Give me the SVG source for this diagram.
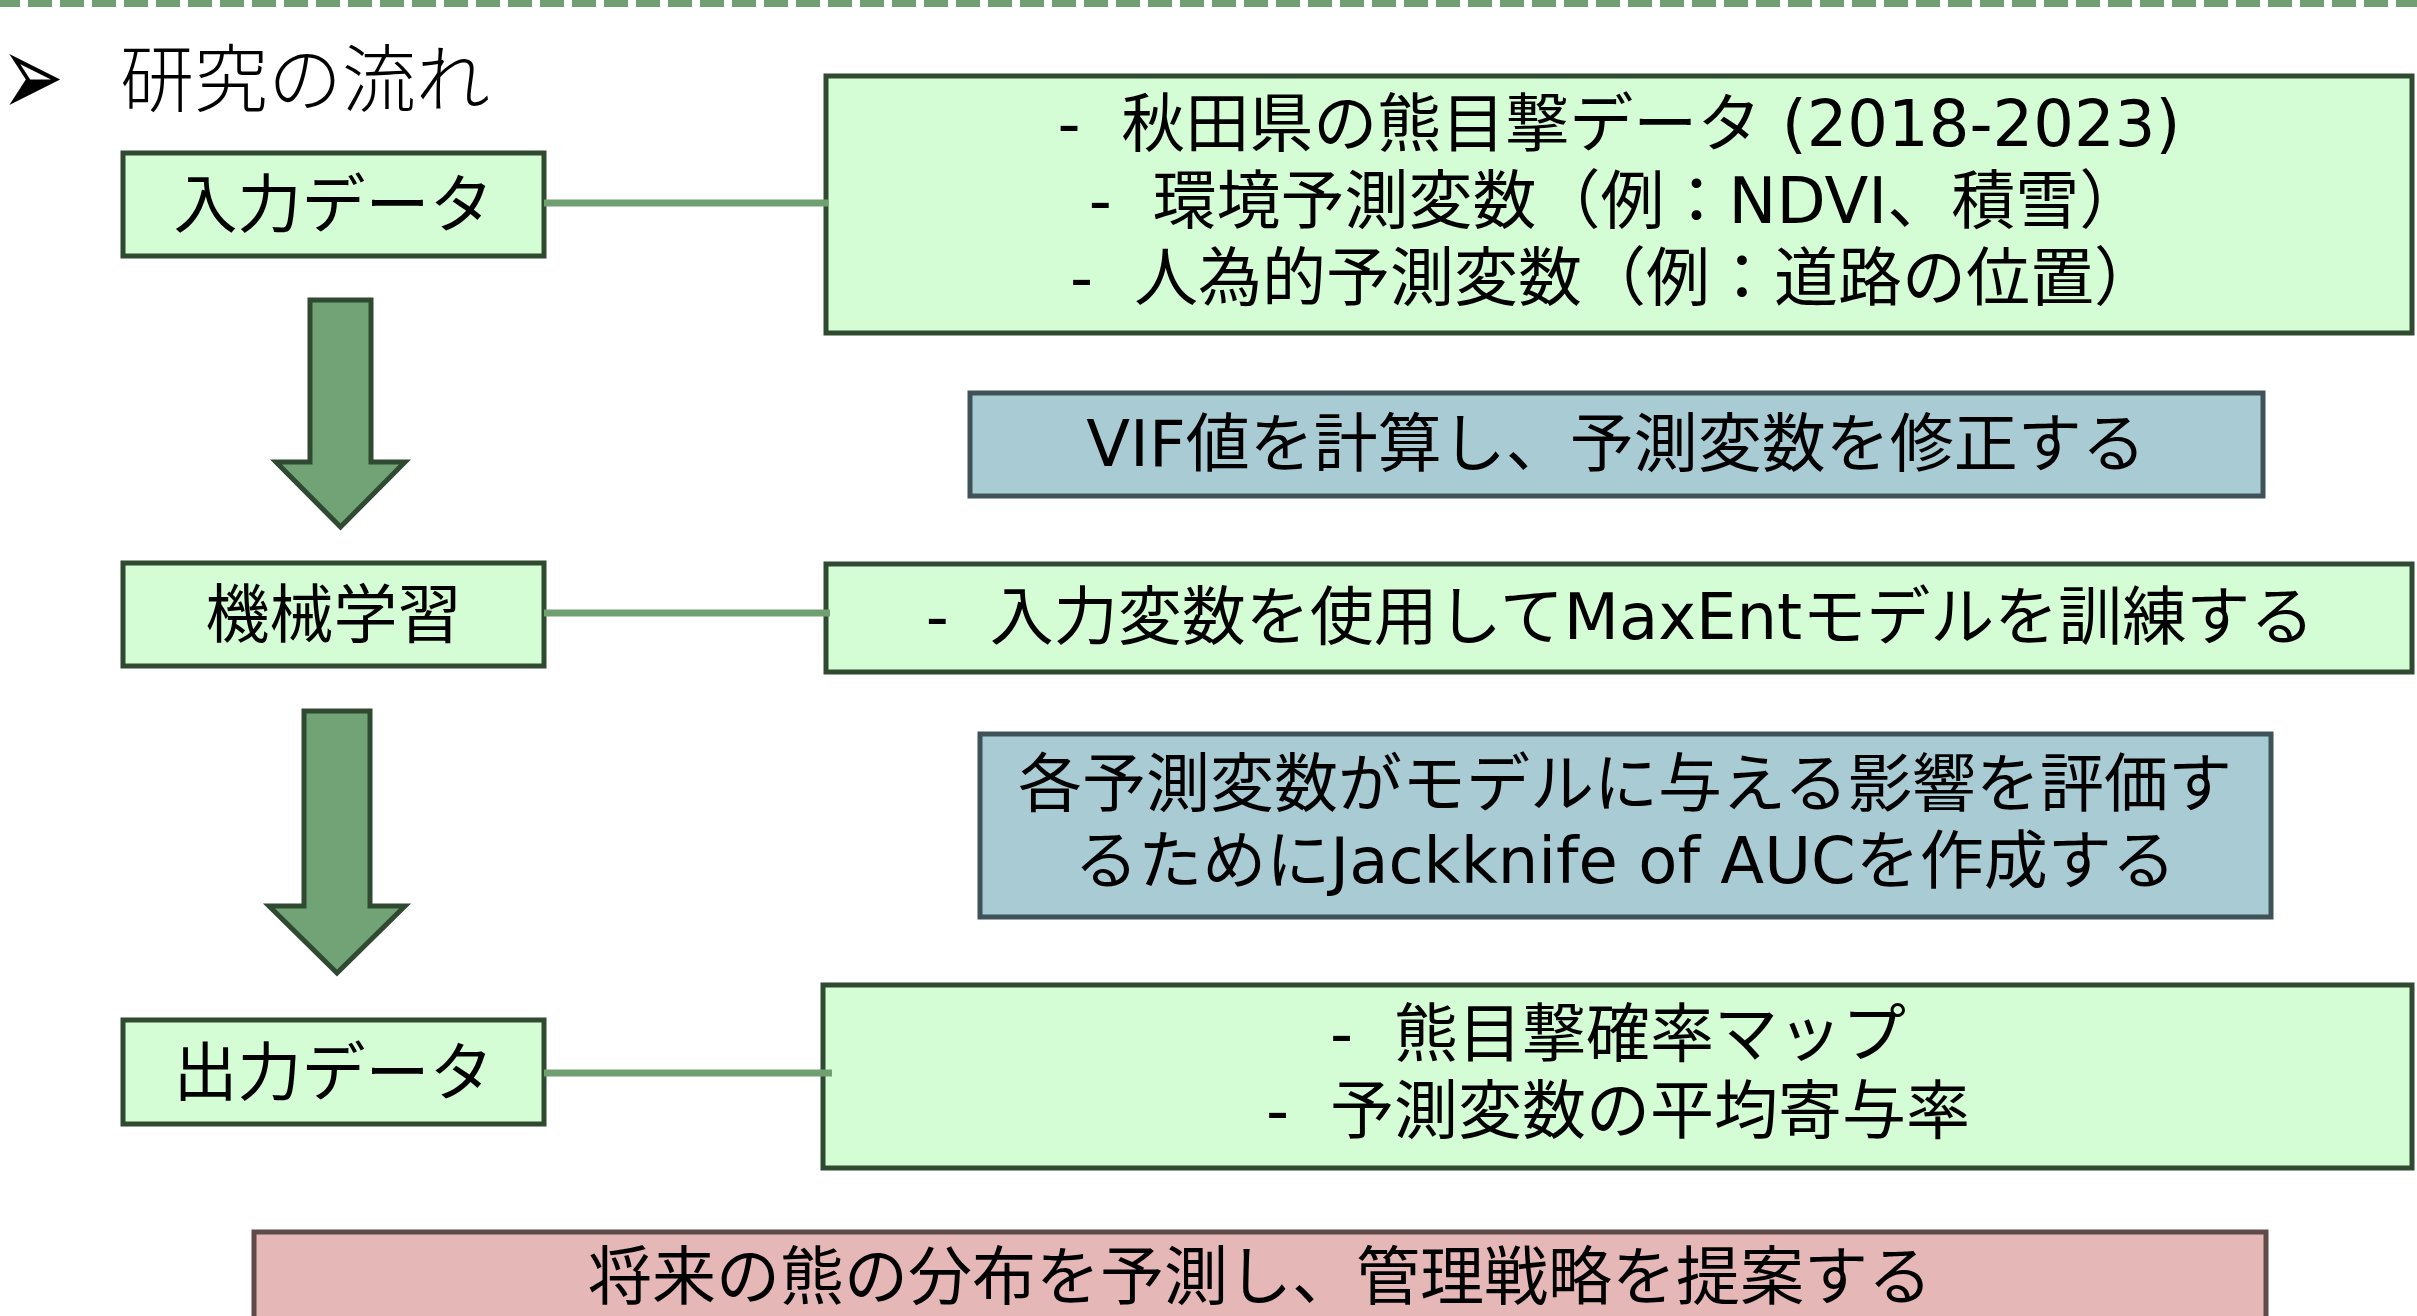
<svg xmlns="http://www.w3.org/2000/svg" width="2417" height="1316" viewBox="0 0 2417 1316">
<style>
.t{font-family:"DejaVu Sans","Noto Sans CJK JP",sans-serif;font-size:64px;fill:#000;text-anchor:middle}
.g{fill:#d5fdd5;stroke:#2f4a31;stroke-width:5}
.b{fill:#a9cbd4;stroke:#3f5258;stroke-width:5}
.p{fill:#e6b7b7;stroke:#604b4b;stroke-width:5}
.ar{fill:#72a376;stroke:#2f4a31;stroke-width:5;stroke-linejoin:miter}
.c{stroke:#70a072;stroke-width:7;fill:none}
</style>
<rect width="2417" height="1316" fill="#fff"/>
<line x1="0" y1="3.5" x2="2417" y2="3.5" stroke="#70a072" stroke-width="7" stroke-dasharray="24 8" stroke-dashoffset="4"/>
<g id="title">
<text transform="translate(1,116) scale(1,1.55)" x="0" y="0" style="font-family:'DejaVu Sans',sans-serif;font-size:75px">➢</text>
<text x="120" y="106" style="font-family:'Noto Sans CJK JP',sans-serif;font-size:74px;font-weight:300">研究の流れ</text>
</g>
<g id="input">
<rect class="g" x="123" y="153" width="421" height="103"/>
<text class="t" x="333.5" y="227">入力データ</text>
</g>
<g id="input-detail">
<rect class="g" x="826" y="76" width="1586" height="257"/>
<text class="t" x="1619" y="146">-&#160;&#160;秋田県の熊目撃データ (2018-2023)</text>
<text class="t" x="1616" y="223">-&#160;&#160;環境予測変数（例：NDVI、積雪）</text>
<text class="t" x="1614" y="300">-&#160;&#160;人為的予測変数（例：道路の位置）</text>
</g>
<g id="vif">
<rect class="b" x="970" y="393" width="1293" height="103"/>
<text class="t" x="1616" y="466">VIF値を計算し、予測変数を修正する</text>
</g>
<g id="arrow1">
<polygon class="ar" points="310,300 371,300 371,462 405,462 340.5,527 276,462 310,462"/>
</g>
<g id="ml">
<rect class="g" x="123" y="563" width="421" height="103"/>
<text class="t" x="333.5" y="637">機械学習</text>
</g>
<g id="ml-detail">
<rect class="g" x="826" y="564" width="1586" height="108"/>
<text class="t" x="1620" y="639">-&#160;&#160;入力変数を使用してMaxEntモデルを訓練する</text>
</g>
<g id="jackknife">
<rect class="b" x="980" y="734" width="1291" height="183"/>
<text class="t" x="1625" y="806">各予測変数がモデルに与える影響を評価す</text>
<text class="t" x="1625" y="883">るためにJackknife of AUCを作成する</text>
</g>
<g id="arrow2">
<polygon class="ar" points="304,711 370,711 370,906 405,906 337,973 269,906 304,906"/>
</g>
<g id="output">
<rect class="g" x="123" y="1020" width="421" height="104"/>
<text class="t" x="333.5" y="1095">出力データ</text>
</g>
<g id="output-detail">
<rect class="g" x="823" y="985" width="1589" height="183"/>
<text class="t" x="1618" y="1056">-&#160;&#160;熊目撃確率マップ</text>
<text class="t" x="1618" y="1133">-&#160;&#160;予測変数の平均寄与率</text>
</g>
<g id="goal">
<rect class="p" x="254" y="1232" width="2012" height="120"/>
<text class="t" x="1260" y="1299">将来の熊の分布を予測し、管理戦略を提案する</text>
</g>
<g id="connectors">
<line class="c" x1="544" y1="203" x2="828" y2="203"/>
<line class="c" x1="544" y1="613" x2="830" y2="613"/>
<line class="c" x1="544" y1="1073" x2="832" y2="1073"/>
</g>
</svg>
